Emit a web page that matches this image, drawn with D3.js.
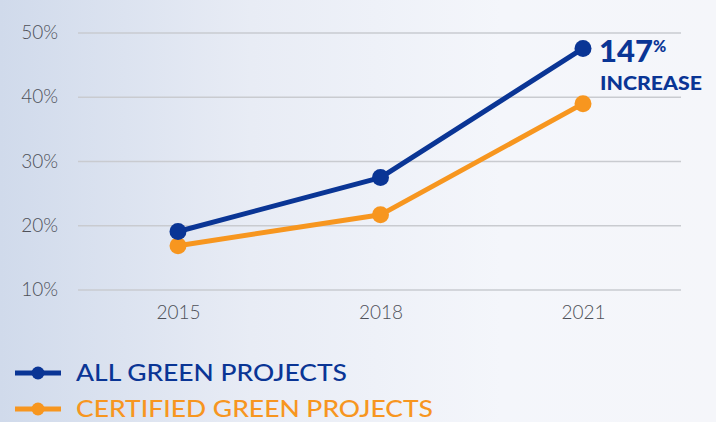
<!DOCTYPE html>
<html>
<head>
<meta charset="utf-8">
<script src="https://cdn.jsdelivr.net/npm/d3@7"></script>
<style>
  body { margin: 0; }
  svg { display: block; }
</style>
</head>
<body>
<div class="canvas"></div>
<script>
const width = 716
const height = 422

// data
const years = ['2015', '2018', '2021']
const allGreen = [19.1, 27.5, 47.6]
const certifiedGreen = [16.9, 21.7, 39.0]
const yTicks = [10, 20, 30, 40, 50]
const seriesNames = ['ALL GREEN PROJECTS', 'CERTIFIED GREEN PROJECTS']

const blue = '#0a3595'
const orange = '#f7961f'
const tickColor = '#4e5058'
const font = 'Lato, "Open Sans", sans-serif'

const svg = d3.select('.canvas')
    .append('svg')
    .attr('width', width)
    .attr('height', height)

const defs = svg.append('defs')
defs.append('linearGradient')
    .attr('id', 'bg')
    .attr('x1', '0%').attr('y1', '0%')
    .attr('x2', '100%').attr('y2', '0%')
    .selectAll('stop')
    .data([
        {offset: '0%', color: '#d0daeb'},
        {offset: '35%', color: '#e8ecf5'},
        {offset: '70%', color: '#f4f6fb'},
        {offset: '100%', color: '#f5f6fa'}
    ])
    .enter().append('stop')
    .attr('offset', d => d.offset)
    .attr('stop-color', d => d.color)

svg.append('rect')
    .attr('width', width)
    .attr('height', height)
    .attr('fill', 'url(#bg)')

const x = d3.scalePoint()
    .domain(years)
    .range([178, 583])

const y = d3.scaleLinear()
    .domain([10, 50])
    .range([290, 33])

const graph = svg.append('g')

// grid lines
graph.selectAll('.grid')
    .data(yTicks)
    .enter()
    .append('line')
    .attr('class', 'grid')
    .attr('x1', 78)
    .attr('x2', 681)
    .attr('y1', d => y(d))
    .attr('y2', d => y(d))
    .attr('stroke', '#c9cbd0')
    .attr('stroke-width', 1.5)

// y tick labels
graph.selectAll('.ytick')
    .data(yTicks)
    .enter()
    .append('text')
    .attr('class', 'ytick')
    .attr('x', 58)
    .attr('y', d => y(d) + 6)
    .attr('text-anchor', 'end')
    .attr('font-family', font)
    .attr('font-weight', 300)
    .attr('font-size', 19)
    .attr('fill', tickColor)
    .text(d => d + '%')

// x tick labels
const xAxis = d3.axisBottom(x).tickSize(0).tickPadding(0)
const xg = graph.append('g')
    .attr('transform', 'translate(0, 305)')
    .call(xAxis)
xg.select('.domain').remove()
xg.selectAll('text')
    .attr('dy', '0.71em')
    .attr('font-family', font)
    .attr('font-weight', 300)
    .attr('font-size', 19)
    .attr('fill', tickColor)

const line = d3.line()
    .x((d, i) => x(years[i]))
    .y(d => y(d))

const series = [
    {name: seriesNames[0], values: allGreen, color: blue, len: 271},
    {name: seriesNames[1], values: certifiedGreen, color: orange, len: 357}
]

// draw orange first so blue sits on top
series.slice().reverse().forEach(s => {
    graph.append('path')
        .datum(s.values)
        .attr('d', line)
        .attr('fill', 'none')
        .attr('stroke', s.color)
        .attr('stroke-width', 5)
        .attr('stroke-linejoin', 'round')

    graph.selectAll('.dot-' + s.color.slice(1))
        .data(s.values)
        .enter()
        .append('circle')
        .attr('cx', (d, i) => x(years[i]))
        .attr('cy', d => y(d))
        .attr('r', 8.5)
        .attr('fill', s.color)
})

// annotation
const ann = graph.append('text')
    .attr('x', 599)
    .attr('y', 62)
    .attr('font-family', font)
    .attr('font-weight', 900)
    .attr('fill', blue)
ann.append('tspan')
    .attr('font-size', 31)
    .attr('textLength', 54)
    .text('147')
ann.append('tspan')
    .attr('font-size', 16)
    .attr('dy', -10)
    .text('%')

graph.append('text')
    .attr('x', 600)
    .attr('y', 90)
    .attr('font-family', font)
    .attr('font-weight', 900)
    .attr('font-size', 18)
    .attr('textLength', 102)
    .attr('lengthAdjust', 'spacingAndGlyphs')
    .attr('fill', blue)
    .text('INCREASE')

// legend
const legend = svg.append('g')
    .selectAll('g')
    .data(series)
    .enter()
    .append('g')
    .attr('transform', (d, i) => `translate(0, ${373 + i * 36})`)

legend.append('line')
    .attr('x1', 15)
    .attr('x2', 61)
    .attr('stroke', d => d.color)
    .attr('stroke-width', 5)

legend.append('circle')
    .attr('cx', 38)
    .attr('r', 6.5)
    .attr('fill', d => d.color)

legend.append('text')
    .attr('x', 76)
    .attr('y', 8)
    .attr('font-family', font)
    .attr('font-weight', 500)
    .attr('font-size', 23)
    .attr('textLength', d => d.len)
    .attr('lengthAdjust', 'spacingAndGlyphs')
    .attr('fill', d => d.color)
    .text(d => d.name)
</script>
</body>
</html>
